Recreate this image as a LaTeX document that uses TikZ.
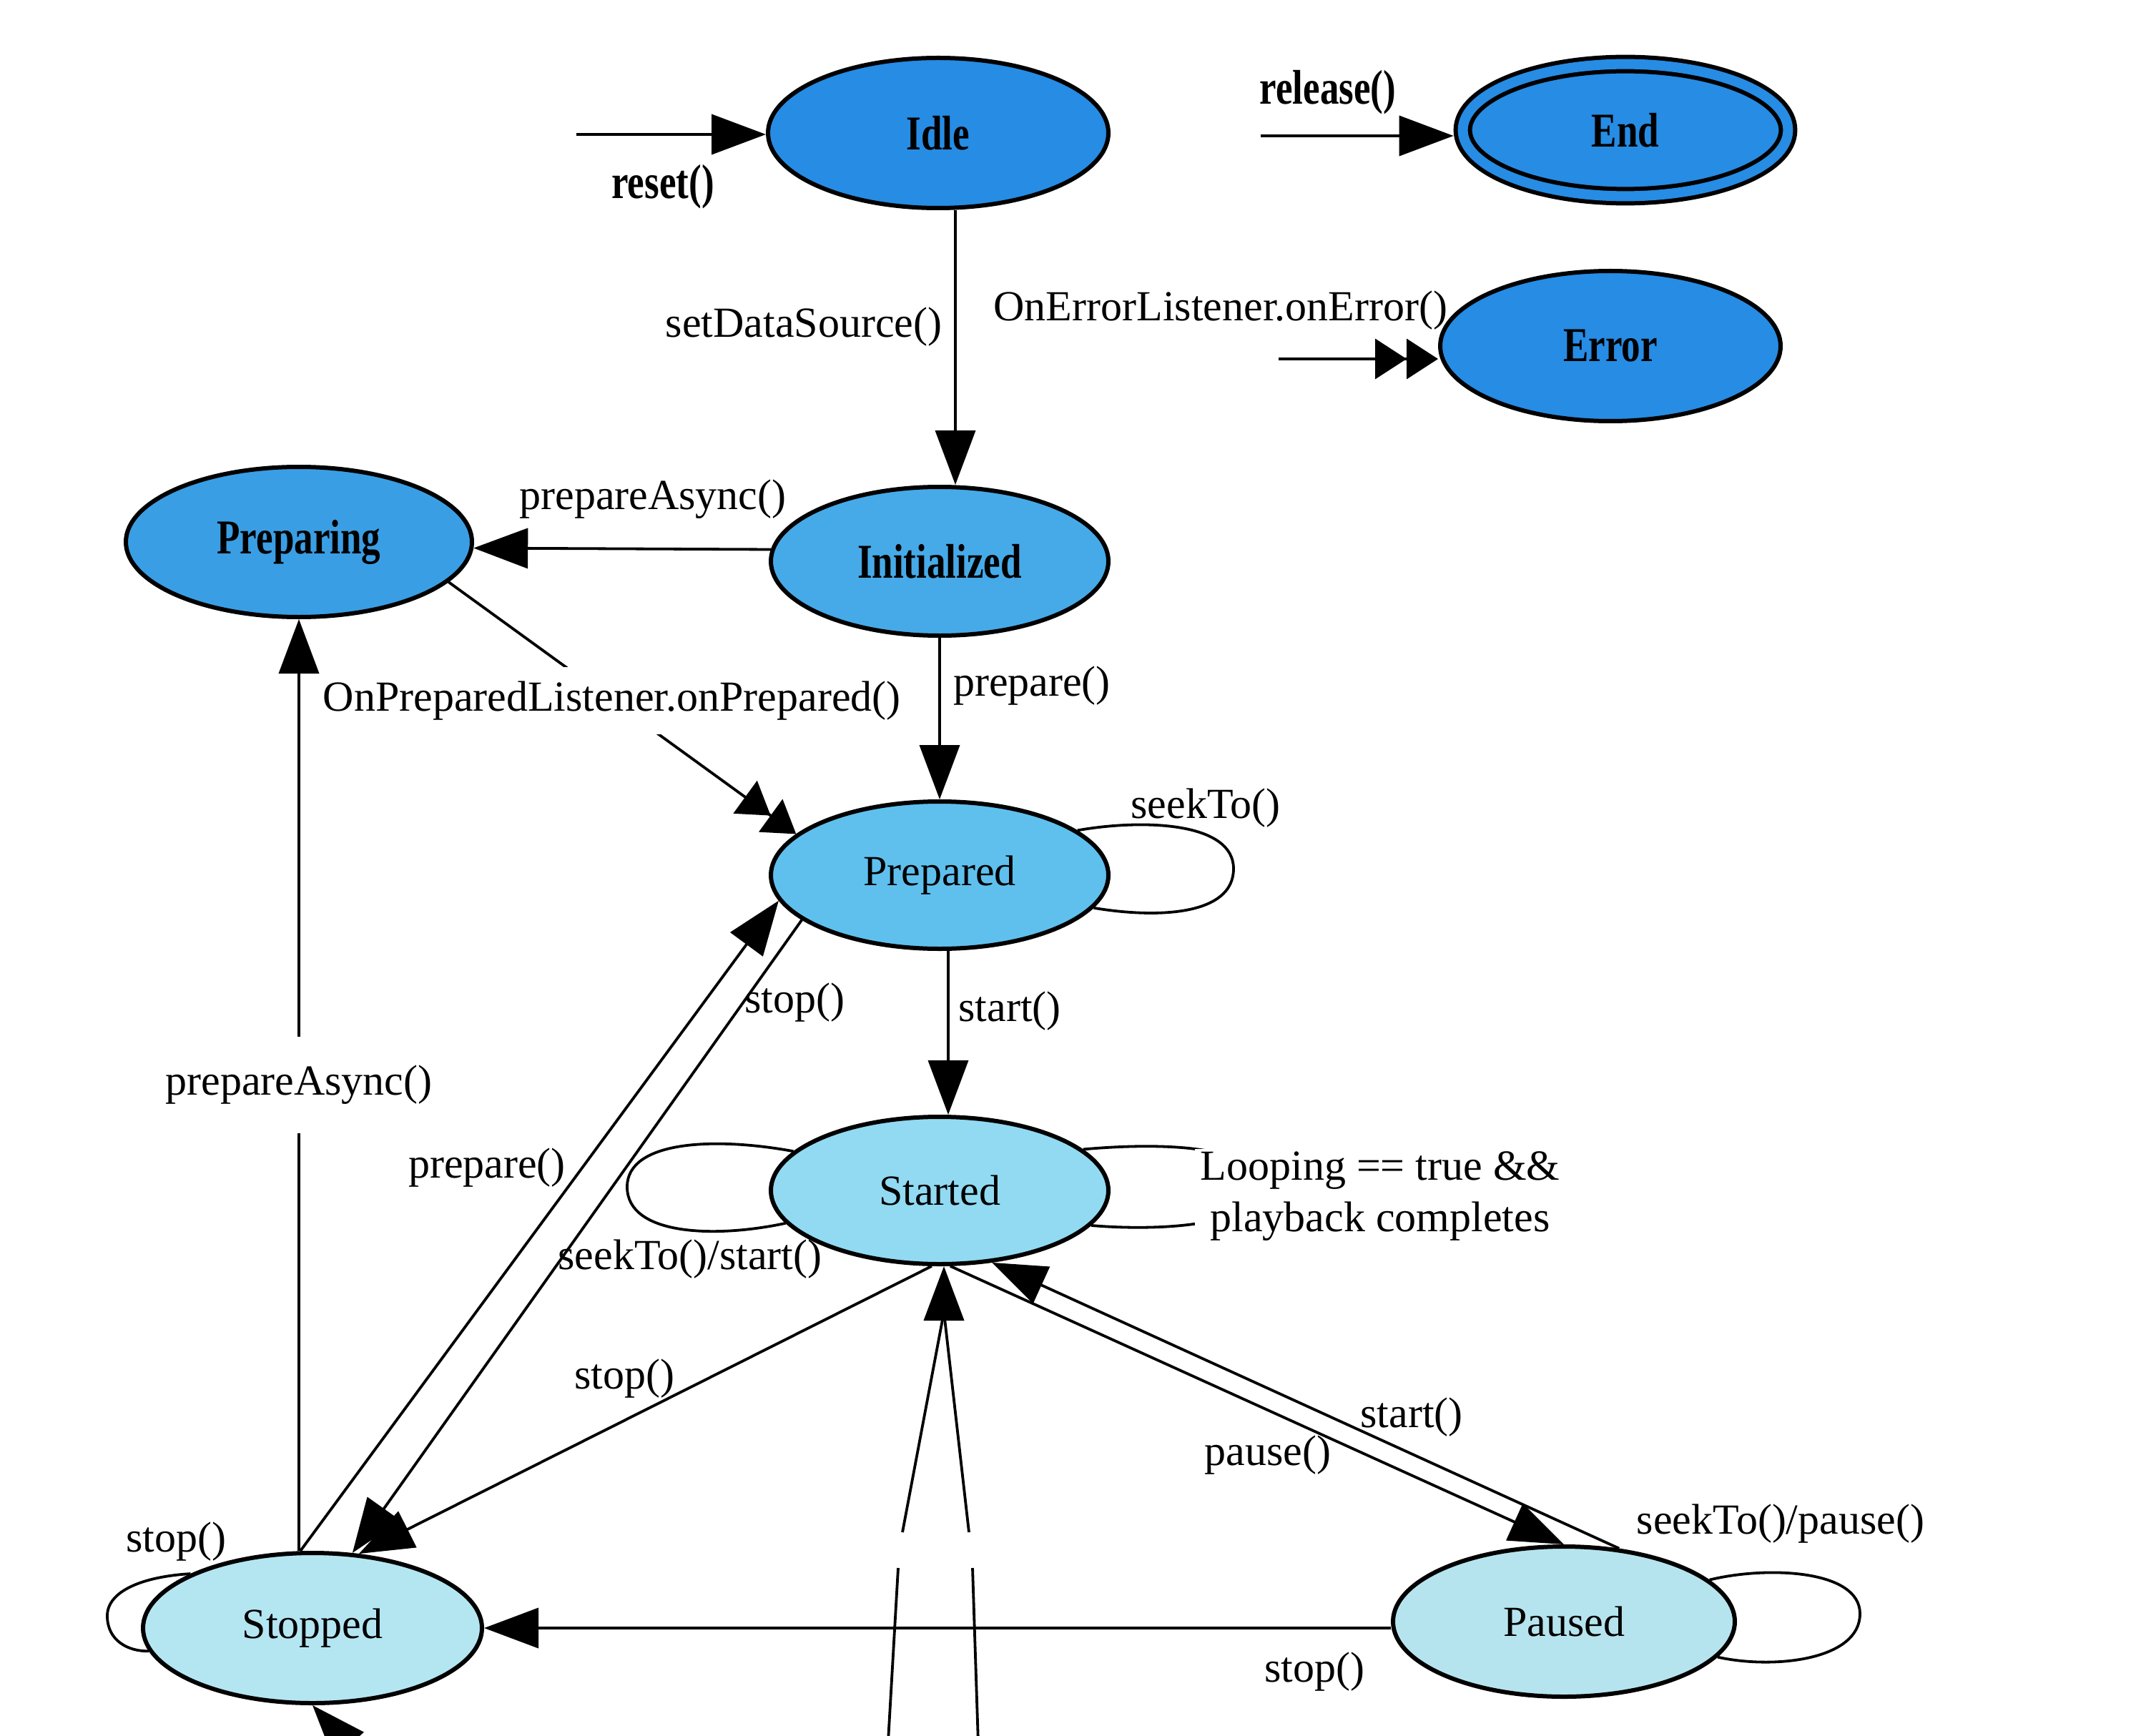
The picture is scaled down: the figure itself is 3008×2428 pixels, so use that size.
\documentclass[tikz,border=0pt]{standalone}
\usepackage{fontspec}
\setmainfont{Liberation Serif}
\newfontfamily\condfont[FakeStretch=0.78]{Liberation Serif}
\usetikzlibrary{arrows.meta,shapes.geometric,calc}
\definecolor{cIdle}{RGB}{38,140,228}
\definecolor{cPreparing}{RGB}{58,158,228}
\definecolor{cInit}{RGB}{70,170,232}
\definecolor{cPrepared}{RGB}{95,192,238}
\definecolor{cStarted}{RGB}{145,218,242}
\definecolor{cStopped}{RGB}{180,230,242}
\definecolor{cPaused}{RGB}{182,228,238}
\begin{document}
\begin{tikzpicture}[x=0.25pt,y=-0.25pt,
  state/.style={ellipse,draw=black,line width=1.5pt,inner sep=0pt,minimum width=119pt,minimum height=52.5pt},
  topname/.style={font=\condfont\bfseries\fontsize{17}{20}\selectfont},
  lowname/.style={font=\fontsize{15}{18}\selectfont},
  lbl/.style={font=\fontsize{15}{18}\selectfont,inner sep=1pt},
  toplbl/.style={font=\condfont\bfseries\fontsize{17}{20}\selectfont,inner sep=1pt},
  edge/.style={line width=0.95pt,-{Triangle[length=19pt,width=14pt]}},
  dedge/.style={line width=0.95pt,-{Triangle[length=11pt,width=14pt] Triangle[length=11pt,width=14pt]}},
  plain/.style={line width=0.95pt}]
\clip (0,0) rectangle (3008,2428);
\fill[white] (0,0) rectangle (3008,2428);

% states
\node[state,topname,fill=cIdle] (Idle) at (1312,186) {Idle};
\node[state,topname,fill=cIdle,double=cIdle,double distance=3.5pt,minimum width=113.7pt,minimum height=46.2pt] (End) at (2273,182) {End};
\node[state,topname,fill=cIdle] (Error) at (2252,484) {Error};
\node[state,topname,fill=cPreparing,minimum width=121pt] (Preparing) at (418,758) {Preparing};
\node[state,topname,fill=cInit,minimum width=118pt,minimum height=52pt] (Initialized) at (1314,785) {Initialized};
\node[state,lowname,fill=cPrepared,minimum width=118pt,minimum height=51.5pt] (Prepared) at (1314,1224) {Prepared};
\node[state,lowname,fill=cStarted,minimum width=118pt,minimum height=51.5pt] (Started) at (1314,1665) {Started};
\node[state,lowname,fill=cStopped,minimum width=118.5pt] (Stopped) at (437,2277) {Stopped};
\node[state,lowname,fill=cPaused,minimum width=119.5pt] (Paused) at (2187,2268) {Paused};

% free ends
\coordinate (rs) at (806,188);
\coordinate (rl) at (1763,190);
\coordinate (er) at (1788,502);
\coordinate (b1a) at (1240,2470);
\coordinate (b1b) at (1256,2193);
\coordinate (b1c) at (1262,2143);
\coordinate (b2a) at (1369,2470);
\coordinate (b2b) at (1360,2193);
\coordinate (b2c) at (1355,2143);
\coordinate (sb) at (1320,1835);
\coordinate (bs) at (540,2500);

% top edges
\draw[edge] (rs) -- (rs -| Idle.west);
\node[toplbl] (lreset) at (927,261) {reset()};
\draw[edge,shorten >=2.5pt] (rl) -- (rl -| End.west);
\node[toplbl] (lrelease) at (1857,129) {release()};
\draw[dedge] (er) -- (er -| Error.west);
\node[lbl] (lerr) at (1707,434) {OnErrorListener.onError()};
\draw[edge] ([xshift=6pt]Idle.south) -- ([xshift=6pt]Idle.south |- Initialized.north);
\node[lbl] (lsds) at (1124,457) {setDataSource()};
\draw[edge] (Initialized.176) -- (Preparing.-2.6);
\node[lbl] (lpa1) at (913,698) {prepareAsync()};
\draw[edge] (Initialized.south) -- (Prepared.north);
\node[lbl] (lprep1) at (1443,959) {prepare()};
\draw[dedge] (Preparing.-15) -- node[pos=0.47,lbl,fill=white,inner ysep=5pt,inner xsep=2pt] (lonp) {OnPreparedListener.onPrepared()} (Prepared.164);

% Prepared
\draw[plain] (Prepared.18) .. controls (1600,1145) and (1725,1150) .. (1725,1215) .. controls (1725,1280) and (1620,1285) .. (Prepared.-12);
\node[lbl] (lseek1) at (1686,1130) {seekTo()};
\draw[edge] ([xshift=3pt]Prepared.south) -- ([xshift=3pt]Prepared.south |- Started.north);
\node[lbl] (lstart1) at (1412,1414) {start()};
\draw[edge] (Prepared.198) -- (Stopped.62);
\node[lbl] (lstop1) at (1111,1402) {stop()};
\draw[edge] (Stopped.99) -- (Prepared.189);
\node[lbl] (lprep2) at (681,1633) {prepare()};
\draw[edge] (Preparing.south |- Stopped.north) -- node[lbl,fill=white,inner ysep=10pt] (lpa2) {prepareAsync()} (Preparing.south);

% Started
\draw[plain] (Started.165) .. controls (1000,1590) and (877,1595) .. (877,1660) .. controls (877,1728) and (1000,1732) .. (Started.192);
\node[lbl] (lseek2) at (965,1761) {seekTo()/start()};
\draw[plain] (Started.16) .. controls (1620,1598) and (1760,1600) .. (1760,1660) .. controls (1760,1715) and (1620,1722) .. (Started.-13);
\node[lbl,fill=white,align=center,inner xsep=2pt] (lloop) at (1930,1673) {Looping == true \&\&\\playback completes};
\draw[edge] (Started.-96) -- (Stopped.58);
\node[lbl] (lstop2) at (873,1928) {stop()};
\draw[edge] (Started.-82) -- (Paused.north);
\node[lbl] (lpause) at (1773,2035) {pause()};
\draw[edge] (Paused.53) -- (Started.-54);
\node[lbl] (lstart2) at (1974,1982) {start()};

% from below
\draw[plain] (b1a) -- (b1b);
\draw[plain] (b2a) -- (b2b);
\draw[plain] (b1c) -- (sb);
\draw[plain] (b2c) -- (sb);
\draw[edge] (sb) -- (sb |- Started.south);
\draw[edge] (bs) -- (Stopped.south);

% Paused / Stopped
\draw[edge] (Stopped.east -| Paused.west) -- (Stopped.east);
\node[lbl] (lstop3) at (1838,2338) {stop()};
\draw[plain] (Paused.16) .. controls (2470,2190) and (2601,2195) .. (2601,2257) .. controls (2601,2322) and (2480,2335) .. (Paused.-13);
\node[lbl] (lseek3) at (2490,2131) {seekTo()/pause()};
\draw[plain] (Stopped.156) .. controls (200,2205) and (150,2225) .. (150,2260) .. controls (150,2295) and (180,2310) .. (Stopped.188);
\node[lbl] (lstop4) at (246,2156) {stop()};
\end{tikzpicture}
\end{document}
